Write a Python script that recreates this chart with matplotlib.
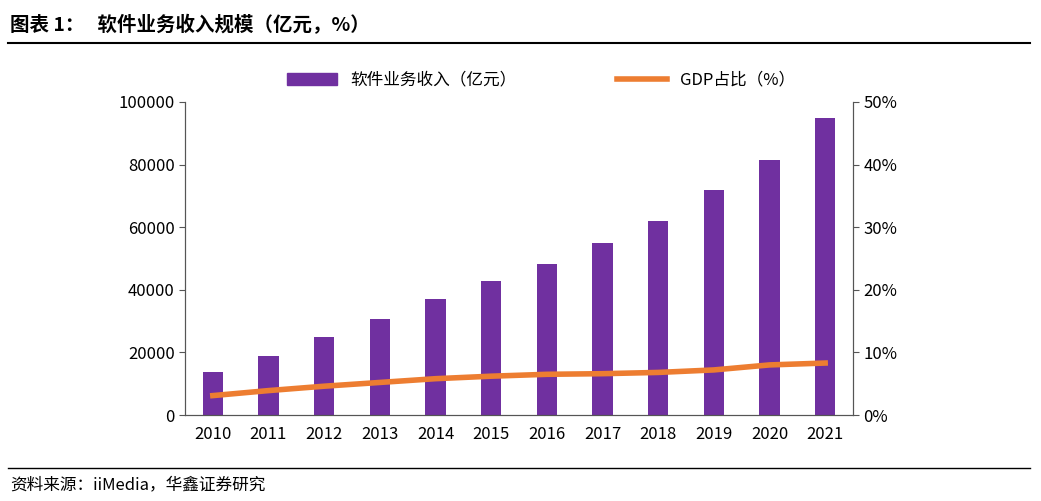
import matplotlib
matplotlib.use("Agg")
import matplotlib.pyplot as plt
from matplotlib.lines import Line2D

plt.rcParams['font.family'] = ['Noto Sans CJK SC', 'DejaVu Sans']

years = ['2010','2011','2012','2013','2014','2015','2016','2017','2018','2019','2020','2021']
revenue = [13600, 18800, 24800, 30600, 37000, 42800, 48200, 55000, 62000, 72000, 81600, 95000]
gdp_pct = [3.1, 3.9, 4.6, 5.2, 5.8, 6.2, 6.5, 6.6, 6.8, 7.2, 8.0, 8.3]

fig = plt.figure(figsize=(10.41, 5.01), dpi=100)
ax = fig.add_axes([185/1041, 1-415/501, (853-185)/1041, (415-102)/501])
x = range(len(years))
ax.bar(x, revenue, width=0.36, color='#7030A0', label='软件业务收入（亿元）')
ax.set_ylim(0, 100000)
ax.set_yticks(range(0, 100001, 20000))
ax.set_xlim(-0.5, len(years)-0.5)
ax.set_xticks(list(x))
ax.set_xticklabels(years)
ax2 = ax.twinx()
ax2.plot(list(x), gdp_pct, color='#ED7D31', lw=4)
ax2.set_ylim(0, 50)
ax2.set_yticks(range(0, 51, 10))
ax2.set_yticklabels([f'{v}%' for v in range(0, 51, 10)])
for a in (ax, ax2):
    for s in ('top',):
        a.spines[s].set_visible(False)
    a.tick_params(labelsize=12, length=4, color='#555555')
    for s in a.spines.values():
        s.set_color('#555555')
ax.tick_params(axis='x', length=0, pad=8)

handles = [plt.Rectangle((0,0),1,1,color='#7030A0'), Line2D([],[],color='#ED7D31',lw=4)]
fig.legend(handles, ['软件业务收入（亿元）', 'GDP占比（%）'], loc='center', bbox_to_anchor=(0.52, 1-80/501),
           ncol=2, frameon=False, fontsize=12, columnspacing=6, handlelength=3)

fig.text(10/1041, 1-25/501, '图表 1：   软件业务收入规模（亿元，%）', fontsize=14, fontweight='bold', va='center')
fig.add_artist(Line2D([8/1041, 1030/1041], [1-43/501]*2, color='black', lw=1.5))
fig.add_artist(Line2D([8/1041, 1030/1041], [1-468/501]*2, color='black', lw=1))
fig.text(10/1041, 1-485/501, '资料来源：iiMedia，华鑫证券研究', fontsize=12, va='center')
fig.savefig('out.png', dpi=100)
